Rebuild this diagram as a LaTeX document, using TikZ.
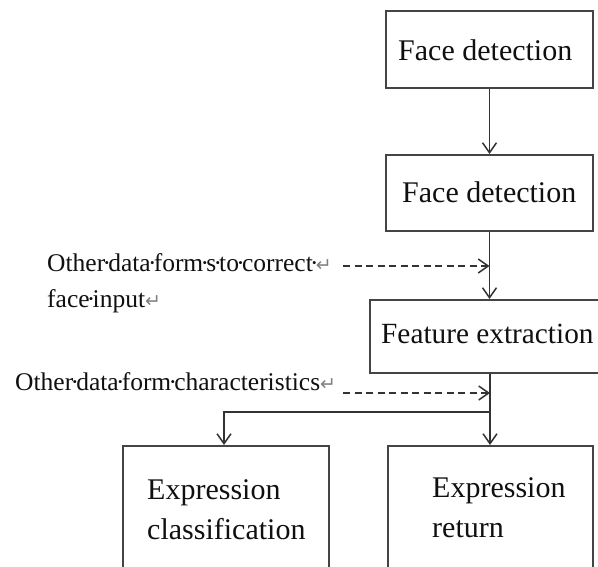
\documentclass[tikz,border=0pt]{standalone}
\usepackage{fontspec}
\setmainfont{Liberation Serif}
\newfontfamily\symfnt{DejaVu Sans}
\usetikzlibrary{arrows.meta}
\definecolor{linecol}{HTML}{333333}
\definecolor{boxcol}{HTML}{444444}
\definecolor{txtcol}{HTML}{101010}
\newcommand\wdot{\makebox[3pt]{·}}
\newcommand\retmark{{\symfnt\fontsize{19}{19}\selectfont\color{gray}↵}}
\begin{document}
\begin{tikzpicture}[x=1pt,y=-1pt,
  box/.style={draw=boxcol,line width=2pt,rectangle,inner sep=0pt,anchor=north west},
  boxtext/.style={anchor=base west,inner sep=0pt,align=left,font=\fontsize{30}{39.5}\selectfont,text=txtcol},
  smalltext/.style={anchor=base west,inner sep=0pt,align=left,font=\fontsize{25.5}{36}\selectfont,text=txtcol},
  conn/.style={draw=linecol,line width=1.7pt,-{Straight Barb[length=10pt,width=14pt,line width=1.5pt]}},
  dconn/.style={conn,dash pattern=on 7pt off 4.5pt}]
\useasboundingbox (0,0) rectangle (598,567);
% boxes
\node[box,minimum width=207pt,minimum height=77pt] (b1) at (385,10) {};
\node[box,minimum width=207pt,minimum height=76pt] (b2) at (385,154) {};
\node[box,minimum width=240pt,minimum height=73pt] (b3) at (369,299) {};
\node[box,minimum width=206pt,minimum height=140pt] (b4) at (122,445) {};
\node[box,minimum width=205pt,minimum height=140pt] (b5) at (387,445) {};
% box texts (multi-line nodes: base = last line's baseline)
\node[boxtext] (t1) at (398,61) {Face detection};
\node[boxtext] (t2) at (402,203) {Face detection};
\node[boxtext,font=\fontsize{29.3}{39.5}\selectfont] (t3) at (381,343) {Feature extraction};
\node[boxtext] (t4) at (147,539) {Expression\\classification};
\node[boxtext] (t5) at (432,537) {Expression\\return};
% side texts
\node[smalltext] (s1) at (47,308) {Other\wdot data\wdot form\wdot s\wdot to\wdot correct\wdot\retmark\\face\wdot input\retmark};
\node[smalltext] (s2) at (15,390) {Other\wdot data\wdot form\wdot characteristics\retmark};
% connectors
\draw[conn] (b1.south) -- (b2.north);
\draw[conn] (b2.south) -- (b2.south |- b3.north);
\coordinate (d1s) at (343,266);
\coordinate (d1e) at (b2.south |- d1s);
\draw[dconn] (d1s) -- (d1e);
\draw[conn] (b3.south) -- (b3.south |- b5.north);
\coordinate (d2s) at (343,393);
\coordinate (d2e) at (b3.south |- d2s);
\draw[dconn] (d2s) -- (d2e);
\coordinate (br) at (b3.south |- 0,412);
\draw[conn] (br) -| ([xshift=-2pt]b4.north);
\end{tikzpicture}
\end{document}
